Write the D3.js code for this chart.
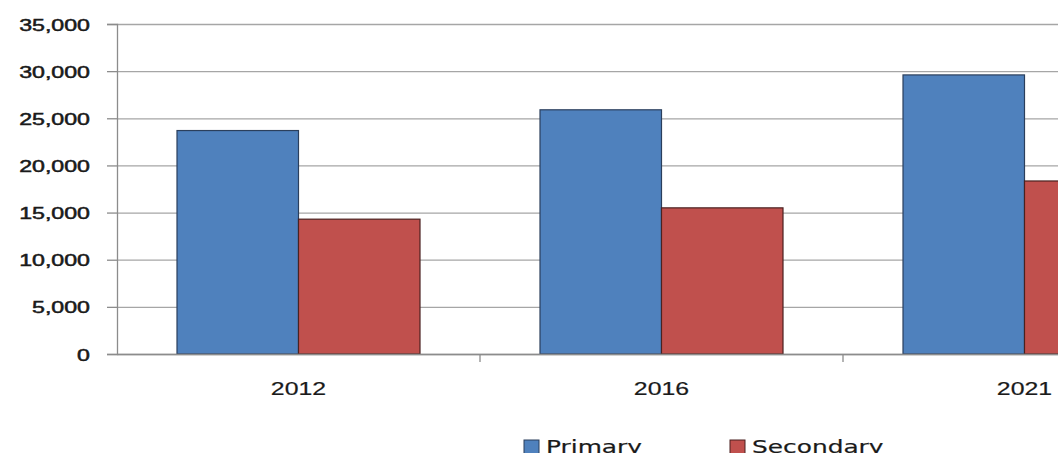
<!DOCTYPE html>
<html>
<head>
<meta charset="utf-8">
<script src="https://cdn.jsdelivr.net/npm/d3@7"></script>
<style>
  html, body { margin: 0; padding: 0; background: #ffffff; overflow: hidden; }
  svg { display: block; font-family: "DejaVu Sans", Verdana, sans-serif; }
</style>
</head>
<body>
<svg id="chart" width="1058" height="453"></svg>
<script>
// Enrolment by year and level
const years = ["2012", "2016", "2021"];
const seriesNames = ["Primary", "Secondary"];
const primary = [23700, 25900, 29600];
const secondary = [14300, 15500, 18350];
const yTicks = [0, 5000, 10000, 15000, 20000, 25000, 30000, 35000];
const colors = ["#4F81BD", "#C0504D"];
const strokes = ["#2b3f5c", "#4a2120"];

const W = 1058, H = 453;
const plotLeft = 117, plotTop = 24, plotBottom = 354, step = 363;
const sx = 1.38; // wide lettering

const svg = d3.select("#chart");

const x = d3.scaleBand()
  .domain(years)
  .range([plotLeft, plotLeft + step * years.length])
  .paddingInner(0).paddingOuter(0);

const xs = d3.scaleBand()
  .domain(seriesNames)
  .range([0, x.bandwidth()])
  .paddingInner(0)
  .paddingOuter(60 / 121.5);

const y = d3.scaleLinear().domain([0, 35000]).range([plotBottom, plotTop]);

// Horizontal gridlines
const grid = svg.append("g")
  .attr("transform", `translate(${plotLeft},0)`)
  .call(d3.axisLeft(y).tickValues(yTicks).tickSize(-(W - plotLeft)).tickFormat(""));
grid.select(".domain").remove();
grid.selectAll(".tick line").attr("stroke", "#a6a6a6").attr("stroke-width", 1.3);

// Bars
const rows = years.map((yr, i) => ({ year: yr, values: [primary[i], secondary[i]] }));
const groups = svg.append("g").selectAll("g")
  .data(rows).join("g")
  .attr("transform", d => `translate(${x(d.year)},0)`);
groups.selectAll("rect")
  .data(d => d.values.map((v, k) => ({ key: seriesNames[k], value: v, k })))
  .join("rect")
  .attr("x", d => xs(d.key))
  .attr("y", d => y(d.value))
  .attr("width", xs.bandwidth())
  .attr("height", d => y(0) - y(d.value))
  .attr("fill", d => colors[d.k])
  .attr("stroke", d => strokes[d.k])
  .attr("stroke-width", 1.2);

// Y axis
const yAxis = svg.append("g")
  .attr("transform", `translate(${plotLeft},0)`)
  .call(d3.axisLeft(y).tickValues(yTicks).tickSize(10).tickFormat(d3.format(",")));
yAxis.select(".domain").attr("stroke", "#8c8c8c").attr("stroke-width", 1.3);
yAxis.selectAll(".tick line").attr("stroke", "#8c8c8c").attr("stroke-width", 1.3);
yAxis.selectAll(".tick text")
  .attr("x", null).attr("dy", null)
  .attr("transform", `translate(-27,6) scale(${sx},1)`)
  .attr("text-anchor", "end")
  .attr("fill", "#1a1a1a")
  .attr("font-size", 16.8)
  .attr("stroke", "#1a1a1a").attr("stroke-width", 0.5);

// X axis
const xAxis = svg.append("g")
  .attr("transform", `translate(0,${plotBottom})`)
  .call(d3.axisBottom(x).tickSize(0).tickSizeOuter(0));
xAxis.select(".domain").attr("stroke", "#8c8c8c").attr("stroke-width", 1.3);
xAxis.selectAll(".tick text")
  .attr("y", null).attr("dy", null)
  .attr("transform", `translate(0,41) scale(${sx},1)`)
  .attr("text-anchor", "middle")
  .attr("fill", "#1a1a1a")
  .attr("font-size", 18)
  .attr("stroke", "#1a1a1a").attr("stroke-width", 0.2);

// Category separators below the axis
xAxis.selectAll("line.sep")
  .data(years.slice(1))
  .join("line")
  .attr("class", "sep")
  .attr("x1", d => x(d)).attr("x2", d => x(d))
  .attr("y1", 0).attr("y2", 8)
  .attr("stroke", "#8c8c8c").attr("stroke-width", 1.3);

// Legend (runs off the bottom edge)
const legendX = [524, 730];
const legend = svg.append("g").selectAll("g")
  .data(seriesNames).join("g")
  .attr("transform", (d, i) => `translate(${legendX[i]},440)`);
legend.append("rect")
  .attr("width", 15).attr("height", 14)
  .attr("fill", (d, i) => colors[i])
  .attr("stroke", (d, i) => strokes[i]).attr("stroke-width", 1);
legend.append("text")
  .attr("transform", `translate(22,13) scale(${sx},1)`)
  .attr("font-size", 18)
  .attr("fill", "#1a1a1a")
  .attr("stroke", "#1a1a1a").attr("stroke-width", 0.2)
  .text(d => d);
</script>
</body>
</html>
